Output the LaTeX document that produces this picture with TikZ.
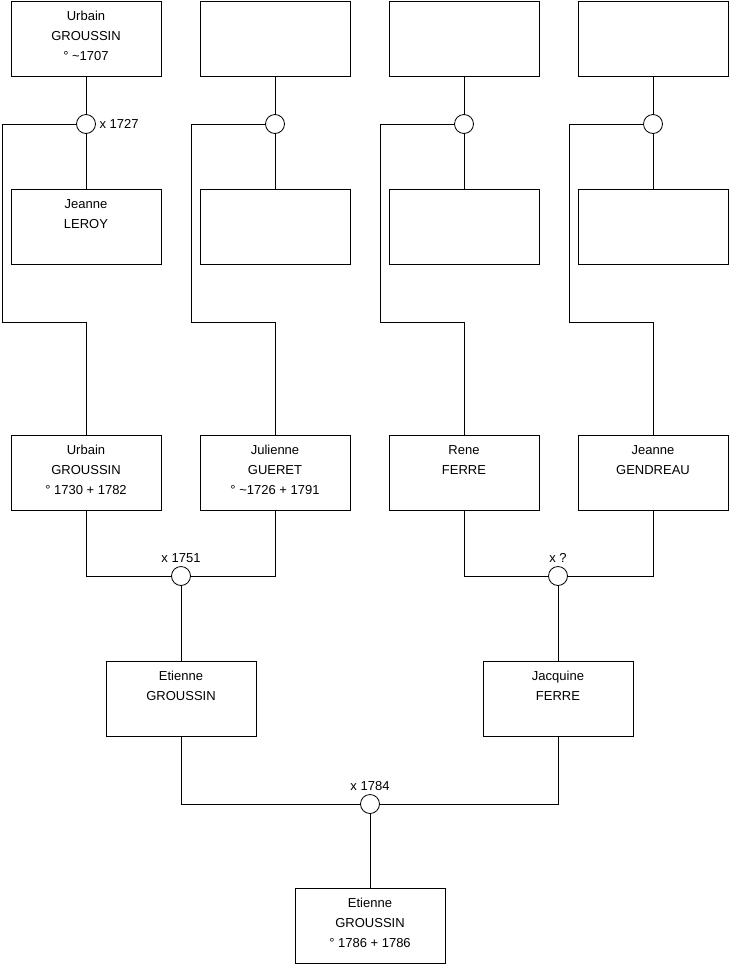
\documentclass[tikz,border=0pt]{standalone}
\usepackage{fontspec}
\setmainfont{Liberation Sans}
\usetikzlibrary{positioning}

\begin{document}
\begin{tikzpicture}[
  x=1pt, y=-1pt,
  font=\fontsize{13}{20}\selectfont,
  line width=0.8pt,
  pers/.style={draw, minimum width=150pt, minimum height=75pt, align=center, inner sep=0pt},
  wed/.style={draw, circle, minimum size=19pt, inner sep=0pt, fill=white},
]
\useasboundingbox (0,0) rectangle (740,975);

% great-grandparents
\node[pers] (g1) at (86,38.5) {Urbain\\GROUSSIN\\\strut° \textasciitilde1707};
\node[pers] (g2) at (275,38.5) {};
\node[pers] (g3) at (464,38.5) {};
\node[pers] (g4) at (653,38.5) {};

\node[wed, label={right:x 1727}] (m1) at (86,124) {};
\node[wed] (m2) at (275,124) {};
\node[wed] (m3) at (464,124) {};
\node[wed] (m4) at (653,124) {};

\node[pers] (s1) at (86,227) {Jeanne\\LEROY\\\strut};
\node[pers] (s2) at (275,227) {};
\node[pers] (s3) at (464,227) {};
\node[pers] (s4) at (653,227) {};

% grandparents
\node[pers] (p1) at (86,473) {Urbain\\GROUSSIN\\\strut° 1730 + 1782};
\node[pers] (p2) at (275,473) {Julienne\\GUERET\\\strut° \textasciitilde1726 + 1791};
\node[pers] (p3) at (464,473) {Rene\\FERRE\\\strut};
\node[pers] (p4) at (653,473) {Jeanne\\GENDREAU\\\strut};

\node[wed, label={above:x 1751}] (w1) at (181,576) {};
\node[wed, label={above:x ?}] (w2) at (558,576) {};

% parents
\node[pers] (c1) at (181,699) {Etienne\\GROUSSIN\\\strut};
\node[pers] (c2) at (558,699) {Jacquine\\FERRE\\\strut};

\node[wed, label={above:x 1784}] (w3) at (370,804) {};

\node[pers] (e) at (370,926) {Etienne\\GROUSSIN\\\strut° 1786 + 1786};

\coordinate (k1) at (2,322);
\coordinate (k2) at (191,322);
\coordinate (k3) at (380,322);
\coordinate (k4) at (569,322);

\draw (g1) -- (m1) -- (s1);
\draw (g2) -- (m2) -- (s2);
\draw (g3) -- (m3) -- (s3);
\draw (g4) -- (m4) -- (s4);

\draw (m1.west) -| (k1) -| (p1.north);
\draw (m2.west) -| (k2) -| (p2.north);
\draw (m3.west) -| (k3) -| (p3.north);
\draw (m4.west) -| (k4) -| (p4.north);

\draw (p1.south) |- (w1.west);
\draw (p2.south) |- (w1.east);
\draw (p3.south) |- (w2.west);
\draw (p4.south) |- (w2.east);
\draw (w1) -- (c1);
\draw (w2) -- (c2);

\draw (c1.south) |- (w3.west);
\draw (c2.south) |- (w3.east);
\draw (w3) -- (e);
\end{tikzpicture}
\end{document}
